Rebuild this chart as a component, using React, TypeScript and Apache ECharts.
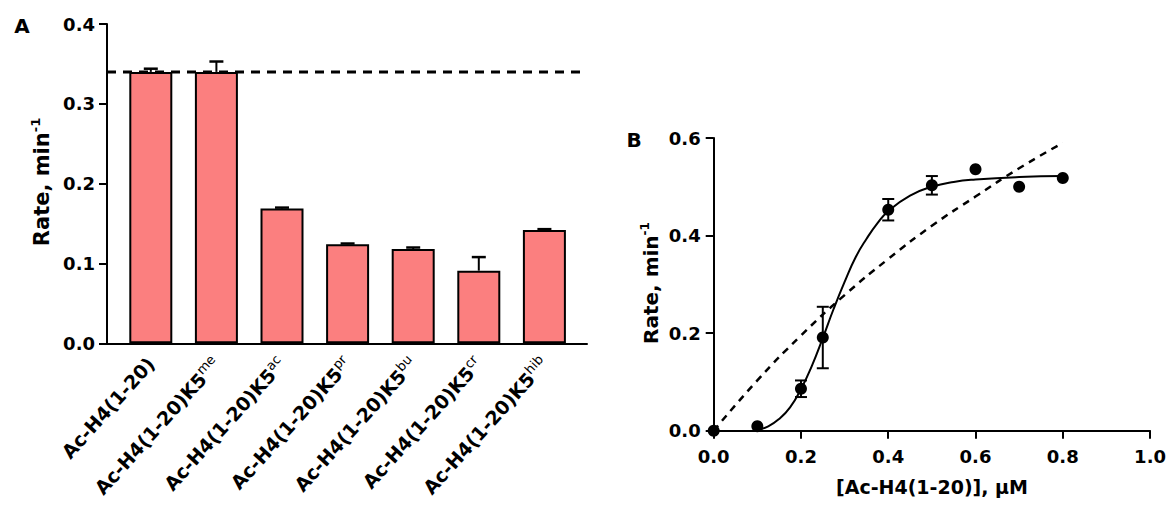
import React, { useEffect, useRef } from 'react';
import * as echarts from 'echarts';

// ---------- Panel A data ----------
const peptideBase = [
  'Ac-H4(1-20)',
  'Ac-H4(1-20)K5',
  'Ac-H4(1-20)K5',
  'Ac-H4(1-20)K5',
  'Ac-H4(1-20)K5',
  'Ac-H4(1-20)K5',
  'Ac-H4(1-20)K5',
];
const peptideMods = ['', 'me', 'ac', 'pr', 'bu', 'cr', 'hib'];
const peptideRates = [0.34, 0.34, 0.169, 0.124, 0.118, 0.091, 0.142];
const peptideErrors = [0.004, 0.013, 0.001, 0.001, 0.002, 0.017, 0.001];
const referenceRate = 0.34;

// ---------- Panel B data ----------
const concentration = [0, 0.1, 0.2, 0.25, 0.4, 0.5, 0.6, 0.7, 0.8];
const concRate = [0, 0.009, 0.086, 0.191, 0.453, 0.503, 0.536, 0.5, 0.518];
const concError = [0, 0, 0.017, 0.063, 0.022, 0.019, 0, 0, 0];

// sigmoidal (solid) fit curve
const sigmoidX = [0.1, 0.125, 0.15, 0.175, 0.2, 0.225, 0.25, 0.275, 0.3, 0.325, 0.35, 0.375, 0.4, 0.45, 0.5, 0.55, 0.6, 0.7, 0.8];
const sigmoidY = [0.002, 0.009, 0.024, 0.048, 0.085, 0.133, 0.19, 0.25, 0.305, 0.355, 0.393, 0.425, 0.45, 0.482, 0.5, 0.51, 0.515, 0.52, 0.522];

// hyperbolic (dashed) fit curve
const hyperX = [0, 0.1, 0.2, 0.3, 0.4, 0.5, 0.6, 0.7, 0.8];
const hyperY = [0, 0.103, 0.195, 0.278, 0.352, 0.42, 0.48, 0.538, 0.59];

const FONT = 'DejaVu Sans';

export default function App() {
  const ref = useRef<HTMLDivElement>(null);

  useEffect(() => {
    if (!ref.current) return;
    const chart = echarts.init(ref.current, undefined, { renderer: 'svg' });

    const axisLineStyle = { color: '#000', width: 2 };
    const tickLabel = { color: '#000', fontFamily: FONT, fontWeight: 'bold' as const, fontSize: 18 };

    const errA = peptideRates.map((r, i) => [i, r, r + peptideErrors[i]]);
    const errB = concentration
      .map((x, i) => [x, concRate[i] - concError[i], concRate[i] + concError[i]])
      .filter((d, i) => concError[i] > 0);

    const option: any = {
      animation: false,
      backgroundColor: '#fff',
      grid: [
        { left: 107, top: 24, width: 480, height: 319.3 },
        { left: 118, top: 24, width: 459.2, height: 319.3 },
        { left: 713.7, top: 138, width: 437, height: 292.7 },
      ],
      xAxis: [
        {
          gridIndex: 0, type: 'value', min: 0, max: 1,
          axisLine: { show: true, lineStyle: axisLineStyle },
          axisTick: { show: false }, axisLabel: { show: false }, splitLine: { show: false },
        },
        {
          gridIndex: 1, type: 'category', data: peptideBase,
          axisLine: { show: false }, axisTick: { show: false }, splitLine: { show: false },
          axisLabel: {
            interval: 0, rotate: 48, margin: 17,
            formatter: (v: string, i: number) => peptideMods[i] ? `{b|${v}}{s|${peptideMods[i]}}` : `{b|${v}}`,
            rich: {
              b: { color: '#000', fontFamily: FONT, fontWeight: 'bold', fontSize: 19, lineHeight: 23 },
              s: { color: '#000', fontFamily: FONT, fontWeight: 'normal', fontSize: 13, verticalAlign: 'top', lineHeight: 13 },
            },
          },
        },
        {
          gridIndex: 2, type: 'value', min: 0, max: 1, interval: 0.2,
          axisLine: { show: true, lineStyle: axisLineStyle },
          axisTick: { show: true, length: 8, lineStyle: axisLineStyle },
          axisLabel: { ...tickLabel, margin: 17, formatter: (v: number) => v.toFixed(1) },
          splitLine: { show: false },
        },
      ],
      yAxis: [
        {
          gridIndex: 0, type: 'value', min: 0, max: 0.4, interval: 0.1,
          axisLine: { show: true, lineStyle: axisLineStyle },
          axisTick: { show: true, length: 8, lineStyle: axisLineStyle },
          axisLabel: { ...tickLabel, margin: 12, formatter: (v: number) => v.toFixed(1) },
          splitLine: { show: false },
        },
        { gridIndex: 1, type: 'value', min: 0, max: 0.4, show: false, splitLine: { show: false } },
        {
          gridIndex: 2, type: 'value', min: 0, max: 0.6, interval: 0.2,
          axisLine: { show: true, lineStyle: axisLineStyle },
          axisTick: { show: true, length: 8, lineStyle: axisLineStyle },
          axisLabel: { ...tickLabel, margin: 13, formatter: (v: number) => v.toFixed(1) },
          splitLine: { show: false },
        },
      ],
      series: [
        {
          type: 'line', xAxisIndex: 0, yAxisIndex: 0,
          data: [[0, referenceRate], [1, referenceRate]],
          symbol: 'none', silent: true, z: 1,
          lineStyle: { color: '#000', width: 3, type: [9, 7] },
        },
        {
          type: 'bar', xAxisIndex: 1, yAxisIndex: 1, data: peptideRates,
          barWidth: 43, z: 2,
          itemStyle: { color: '#FB7F7F', borderColor: '#000', borderWidth: 2 },
        },
        {
          type: 'custom', xAxisIndex: 1, yAxisIndex: 1, data: errA, z: 3,
          renderItem: (params: any, api: any) => {
            const base = api.coord([api.value(0), api.value(1)]);
            const top = api.coord([api.value(0), api.value(2)]);
            const half = 7;
            return {
              type: 'group',
              children: [
                { type: 'line', shape: { x1: base[0], y1: base[1], x2: top[0], y2: top[1] }, style: { stroke: '#000', lineWidth: 2 } },
                { type: 'line', shape: { x1: top[0] - half, y1: top[1], x2: top[0] + half, y2: top[1] }, style: { stroke: '#000', lineWidth: 2.5 } },
              ],
            };
          },
        },
        {
          type: 'line', xAxisIndex: 2, yAxisIndex: 2,
          data: hyperX.map((x, i) => [x, hyperY[i]]),
          smooth: true, symbol: 'none', silent: true,
          lineStyle: { color: '#000', width: 2.5, type: [7, 6] },
        },
        {
          type: 'line', xAxisIndex: 2, yAxisIndex: 2,
          data: sigmoidX.map((x, i) => [x, sigmoidY[i]]),
          smooth: true, symbol: 'none', silent: true,
          lineStyle: { color: '#000', width: 2 },
        },
        {
          type: 'custom', xAxisIndex: 2, yAxisIndex: 2, data: errB, z: 4,
          renderItem: (params: any, api: any) => {
            const lo = api.coord([api.value(0), api.value(1)]);
            const hi = api.coord([api.value(0), api.value(2)]);
            const half = 6;
            return {
              type: 'group',
              children: [
                { type: 'line', shape: { x1: lo[0], y1: lo[1], x2: hi[0], y2: hi[1] }, style: { stroke: '#000', lineWidth: 2 } },
                { type: 'line', shape: { x1: hi[0] - half, y1: hi[1], x2: hi[0] + half, y2: hi[1] }, style: { stroke: '#000', lineWidth: 2 } },
                { type: 'line', shape: { x1: lo[0] - half, y1: lo[1], x2: lo[0] + half, y2: lo[1] }, style: { stroke: '#000', lineWidth: 2 } },
              ],
            };
          },
        },
        {
          type: 'scatter', xAxisIndex: 2, yAxisIndex: 2,
          data: concentration.map((x, i) => [x, concRate[i]]),
          symbol: 'circle', symbolSize: 12, z: 5,
          itemStyle: { color: '#000', opacity: 1 },
        },
      ],
      graphic: [
        { type: 'text', x: 22, y: 26, style: { text: 'A', fontFamily: FONT, fontWeight: 'bold', fontSize: 20, fill: '#000', align: 'center', verticalAlign: 'middle' } },
        { type: 'text', x: 634, y: 140, style: { text: 'B', fontFamily: FONT, fontWeight: 'bold', fontSize: 20, fill: '#000', align: 'center', verticalAlign: 'middle' } },
        {
          type: 'text', x: 42, y: 182, rotation: Math.PI / 2,
          style: {
            text: '{a|Rate, min}{s|-1}', align: 'center', verticalAlign: 'middle',
            rich: {
              a: { fontFamily: FONT, fontWeight: 'bold', fontSize: 21, fill: '#000', lineHeight: 26 },
              s: { fontFamily: FONT, fontWeight: 'bold', fontSize: 13, fill: '#000', verticalAlign: 'top', lineHeight: 13 },
            },
          },
        },
        {
          type: 'text', x: 651, y: 283, rotation: Math.PI / 2,
          style: {
            text: '{a|Rate, min}{s|-1}', align: 'center', verticalAlign: 'middle',
            rich: {
              a: { fontFamily: FONT, fontWeight: 'bold', fontSize: 20, fill: '#000', lineHeight: 24 },
              s: { fontFamily: FONT, fontWeight: 'bold', fontSize: 12, fill: '#000', verticalAlign: 'top', lineHeight: 12 },
            },
          },
        },
        {
          type: 'text', x: 932, y: 487,
          style: { text: '[Ac-H4(1-20)], \u03bcM', fontFamily: FONT, fontWeight: 'bold', fontSize: 19, fill: '#000', align: 'center', verticalAlign: 'middle' },
        },
      ],
    };

    chart.setOption(option);
    return () => chart.dispose();
  }, []);

  return (
    <div
      ref={ref}
      style={{ position: 'absolute', left: 0, top: 0, width: 1169, height: 506, background: '#fff' }}
    />
  );
}
